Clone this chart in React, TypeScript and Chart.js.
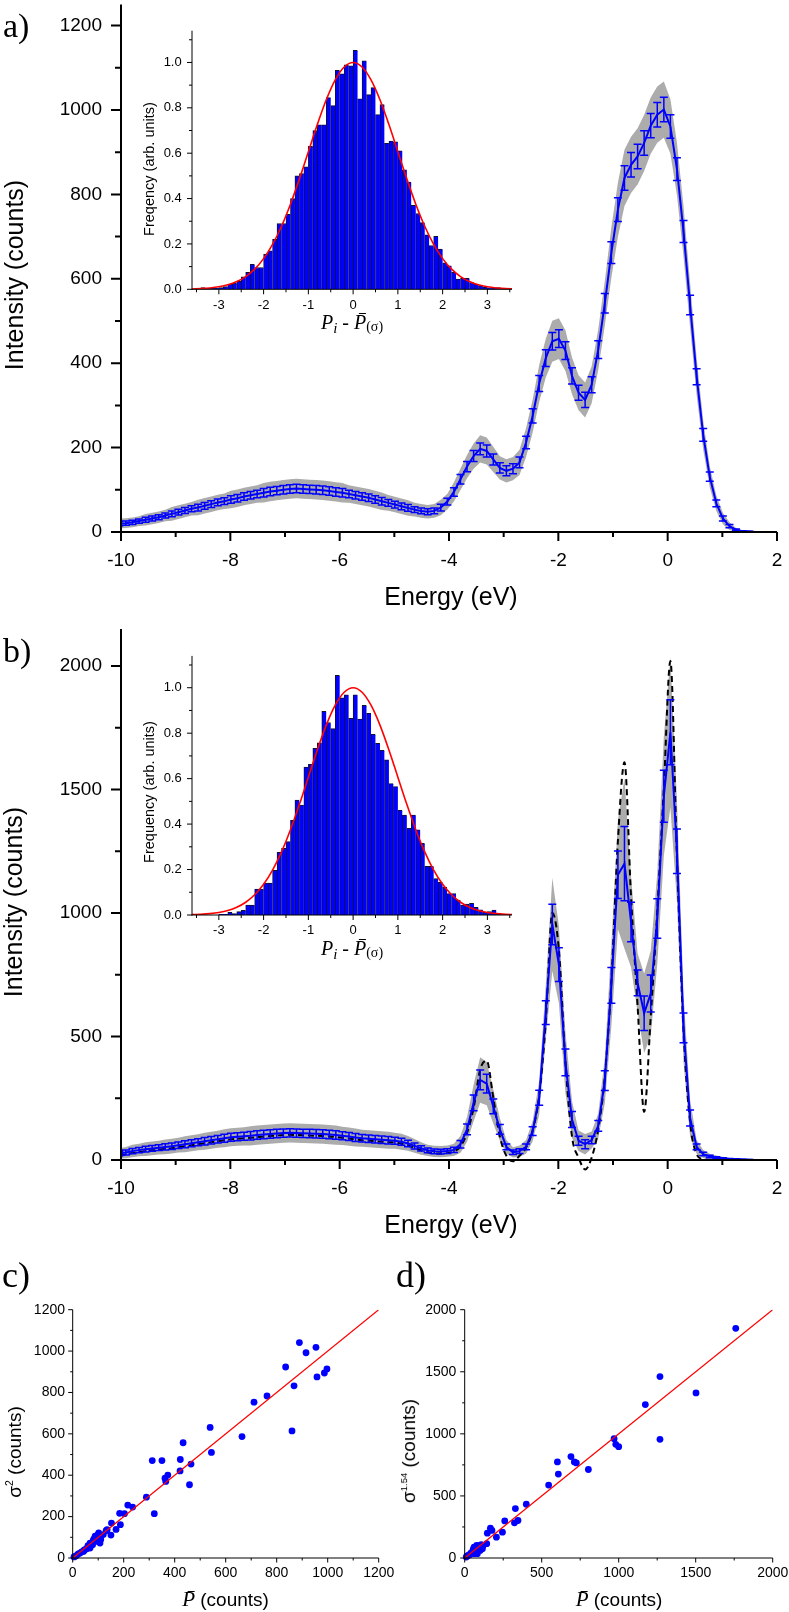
import React, { useEffect, useRef } from 'react';
import { Chart, registerables } from 'chart.js';

Chart.register(...registerables);

const SANS = '"Liberation Sans", Arial, sans-serif';
const SERIF = '"Liberation Serif", "Times New Roman", serif';
const BLUE = '#0000ff';
const GRAY = '#acacac';
const BAND_K = 2.3;

// ---------- energy grid (eV) shared by panels a and b ----------
const energy = [
  -10.03, -9.91, -9.79, -9.67, -9.55, -9.43, -9.31, -9.19, -9.07, -8.95,
  -8.83, -8.71, -8.59, -8.47, -8.35, -8.23, -8.11, -7.99, -7.87, -7.75,
  -7.63, -7.51, -7.39, -7.27, -7.15, -7.03, -6.91, -6.79, -6.67, -6.55,
  -6.43, -6.31, -6.19, -6.07, -5.95, -5.83, -5.71, -5.59, -5.47, -5.35,
  -5.23, -5.11, -4.99, -4.87, -4.75, -4.63, -4.51, -4.39, -4.27, -4.15,
  -4.03, -3.91, -3.79, -3.67, -3.55, -3.43, -3.31, -3.19, -3.07, -2.95,
  -2.83, -2.71, -2.59, -2.47, -2.35, -2.23, -2.11, -1.99, -1.87, -1.75,
  -1.63, -1.51, -1.39, -1.27, -1.15, -1.03, -0.91, -0.79, -0.67, -0.55,
  -0.43, -0.31, -0.19, -0.07, 0.05, 0.17, 0.29, 0.41, 0.53, 0.65,
  0.77, 0.89, 1.01, 1.13, 1.25, 1.37, 1.49, 1.61, 1.73, 1.85,
  1.97,
];

// ---------- panel a: mean intensity and error ----------
const meanA = [
  20, 21, 23, 26, 29, 32, 35, 39, 43, 47,
  51, 55, 58, 62, 66, 70, 73, 77, 80, 84,
  87, 90, 93, 96, 98, 100, 102, 103, 102, 101,
  100, 99, 97, 95, 93, 90, 87, 84, 81, 77,
  73, 69, 65, 61, 57, 53, 50, 48, 50, 58,
  72, 95, 125, 155, 180, 197, 192, 172, 152, 145,
  150, 165, 212, 275, 352, 412, 452, 458, 430, 370,
  330, 313, 349, 432, 542, 662, 764, 839, 870, 890,
  922, 963, 989, 1001, 961, 860, 712, 538, 368, 230,
  131, 68, 32, 14, 5, 2, 1, 0, 0, 0,
  0,
];
const errA = [
  5, 5, 5, 5, 6, 6, 6, 6, 7, 7,
  7, 7, 8, 8, 8, 8, 8, 9, 9, 9,
  9, 9, 10, 10, 10, 10, 10, 10, 10, 10,
  10, 10, 10, 10, 10, 9, 9, 9, 9, 9,
  9, 8, 8, 8, 8, 7, 7, 7, 7, 8,
  8, 10, 11, 12, 13, 14, 14, 13, 12, 12,
  12, 13, 15, 17, 19, 20, 21, 21, 21, 19,
  18, 18, 19, 21, 23, 26, 28, 29, 29, 29,
  29, 29, 29, 29, 28, 27, 26, 23, 19, 15,
  11, 8, 6, 4, 2, 1, 1, 0, 0, 0,
  0,
];

// ---------- panel b: mean intensity, error, model (dashed) ----------
const meanB = [
  26, 30, 36, 40, 44, 47, 50, 53, 56, 60,
  64, 68, 72, 76, 80, 84, 88, 92, 94, 96,
  98, 101, 103, 105, 107, 109, 110, 109, 108, 107,
  106, 105, 103, 101, 98, 95, 91, 88, 86, 84,
  82, 80, 78, 74, 67, 57, 47, 39, 35, 34,
  36, 41, 64, 124, 231, 324, 309, 217, 124, 53,
  31, 36, 53, 117, 252, 597, 954, 791, 395, 164,
  78, 64, 81, 138, 321, 707, 1155, 1200, 964, 717,
  594, 674, 978, 1473, 1732, 1250, 535, 170, 53, 24,
  14, 9, 6, 4, 3, 2, 1, 0, 0, 0,
  0,
];
const errB = [
  9, 10, 11, 11, 12, 12, 12, 13, 13, 13,
  14, 14, 14, 15, 15, 15, 16, 16, 16, 16,
  17, 17, 17, 17, 17, 17, 17, 17, 17, 17,
  17, 17, 17, 17, 16, 16, 16, 15, 15, 15,
  15, 15, 14, 14, 13, 12, 11, 10, 10, 10,
  10, 11, 15, 22, 32, 40, 38, 30, 20, 12,
  9, 10, 12, 18, 30, 48, 82, 68, 54, 32,
  18, 18, 15, 22, 40, 72, 96, 150, 80, 52,
  70, 75, 80, 105, 132, 90, 60, 32, 12, 7,
  5, 4, 3, 2, 2, 1, 1, 0, 0, 0,
  0,
];
const modelB = [
  18, 22, 28, 32, 36, 39, 42, 45, 48, 52,
  56, 60, 64, 68, 72, 76, 80, 84, 86, 88,
  90, 93, 95, 97, 99, 101, 102, 101, 100, 99,
  98, 97, 95, 93, 90, 87, 83, 80, 78, 76,
  74, 72, 70, 66, 59, 49, 39, 31, 27, 26,
  28, 35, 55, 110, 210, 366, 402, 252, 95, 17,
  -5, 17, 50, 120, 260, 560, 1000, 850, 395, 95,
  10, -38, 10, 124, 338, 723, 1293, 1610, 1065, 623,
  195, 580, 1008, 1507, 2020, 1222, 523, 153, 24, 3,
  0, 0, 0, 0, 0, 0, 0, 0, 0, 0,
  0,
];

// ---------- inset histograms ----------
const histBinsA = [
  -3.35, -3.25, -3.15, -3.05, -2.95, -2.85, -2.75, -2.65, -2.55, -2.45,
  -2.35, -2.25, -2.15, -2.05, -1.95, -1.85, -1.75, -1.65, -1.55, -1.45,
  -1.35, -1.25, -1.15, -1.05, -0.95, -0.85, -0.75, -0.65, -0.55, -0.45,
  -0.35, -0.25, -0.15, -0.05, 0.05, 0.15, 0.25, 0.35, 0.45, 0.55,
  0.65, 0.75, 0.85, 0.95, 1.05, 1.15, 1.25, 1.35, 1.45, 1.55,
  1.65, 1.75, 1.85, 1.95, 2.05, 2.15, 2.25, 2.35, 2.45, 2.55,
  2.65, 2.75, 2.85, 2.95, 3.05, 3.15, 3.25, 3.35,
];
const histA = [
  0.008, 0.004, 0.004, 0.005, 0.008, 0.012, 0.022, 0.026, 0.035, 0.055,
  0.075, 0.11, 0.096, 0.096, 0.155, 0.17, 0.22, 0.29, 0.29, 0.33,
  0.4, 0.5, 0.51, 0.54, 0.63, 0.7, 0.725, 0.725, 0.845, 0.81,
  0.965, 0.95, 0.99, 0.985, 1.053, 0.84, 1.007, 0.858, 0.889, 0.77,
  0.814, 0.643, 0.653, 0.65, 0.61, 0.527, 0.473, 0.37, 0.334, 0.294,
  0.24, 0.193, 0.234, 0.177, 0.117, 0.104, 0.075, 0.045, 0.048, 0.048,
  0.03, 0.022, 0.016, 0.01, 0.007, 0.007, 0.008, 0.005,
];
const histBinsB = [
  -2.95, -2.85, -2.75, -2.65, -2.55, -2.45, -2.35, -2.25, -2.15, -2.05,
  -1.95, -1.85, -1.75, -1.65, -1.55, -1.45, -1.35, -1.25, -1.15, -1.05,
  -0.95, -0.85, -0.75, -0.65, -0.55, -0.45, -0.35, -0.25, -0.15, -0.05,
  0.05, 0.15, 0.25, 0.35, 0.45, 0.55, 0.65, 0.75, 0.85, 0.95,
  1.05, 1.15, 1.25, 1.35, 1.45, 1.55, 1.65, 1.75, 1.85, 1.95,
  2.05, 2.15, 2.25, 2.35, 2.45, 2.55, 2.65, 2.75, 2.85, 2.95,
  3.05, 3.15, 3.25,
];
const histB = [
  0.003, 0.003, 0.012, 0.006, 0.015, 0.02, 0.044, 0.044, 0.114, 0.114,
  0.14, 0.14, 0.196, 0.276, 0.293, 0.323, 0.416, 0.506, 0.484, 0.651,
  0.663, 0.733, 0.758, 0.896, 0.847, 0.82, 1.054, 0.955, 0.969, 0.865,
  0.969, 0.862, 0.922, 0.887, 0.795, 0.755, 0.724, 0.683, 0.578, 0.565,
  0.46, 0.44, 0.381, 0.44, 0.375, 0.315, 0.214, 0.214, 0.16, 0.144,
  0.122, 0.094, 0.094, 0.066, 0.044, 0.048, 0.051, 0.034, 0.023, 0.012,
  0.015, 0.022, 0.003,
];
// fitted normal curve (red)
const gaussX = [
  -3.6, -3.4, -3.2, -3.0, -2.8, -2.6, -2.4, -2.2, -2.0, -1.8,
  -1.6, -1.4, -1.2, -1.0, -0.8, -0.6, -0.4, -0.2, 0, 0.2,
  0.4, 0.6, 0.8, 1.0, 1.2, 1.4, 1.6, 1.8, 2.0, 2.2,
  2.4, 2.6, 2.8, 3.0, 3.2, 3.4, 3.6,
];
const gaussY = [
  0.0015, 0.0031, 0.006, 0.0111, 0.0198, 0.034, 0.0561, 0.0889, 0.1353, 0.1979,
  0.278, 0.3753, 0.4868, 0.6065, 0.7261, 0.8353, 0.9231, 0.9802, 1.0, 0.9802,
  0.9231, 0.8353, 0.7261, 0.6065, 0.4868, 0.3753, 0.278, 0.1979, 0.1353, 0.0889,
  0.0561, 0.034, 0.0198, 0.0111, 0.006, 0.0031, 0.0015,
];

// ---------- panel c ----------
const cX = [
  889, 915, 954, 835, 958, 987, 997, 868, 762, 711, 860, 664, 539, 544, 433, 422, 421, 464, 458, 312,
  350, 373, 362, 365, 289, 320, 216, 235, 184, 203, 187, 152, 170, 150, 135, 102, 105, 94, 88, 107,
  78, 68, 58, 42, 29, 16, 5, 81, 68, 48, 120, 131, 100, 90, 75, 60, 55, 35, 22, 10,
  110, 98, 85, 65, 45,
];
const cY = [
  1041, 992, 1018, 923, 875, 894, 914, 832, 783, 753, 614, 587, 631, 510, 557, 476, 421, 454, 354, 471,
  471, 401, 386, 370, 294, 214, 256, 246, 216, 214, 161, 169, 138, 111, 137, 121, 113, 88, 105, 72,
  64, 72, 48, 32, 24, 13, 5, 88, 48, 40, 113, 132, 100, 80, 70, 60, 45, 30, 20, 8,
  90, 112, 95, 55, 38,
];
const fitCX = [0, 1200];
const fitCY = [0, 1200];

// ---------- panel d ----------
const dX = [
  1760, 1268, 1502, 1173, 1268, 970, 981, 1000, 690, 712, 725, 602, 608, 803, 545, 400, 329, 346, 323, 260,
  245, 206, 167, 177, 147, 143, 108, 93, 78, 61, 100, 71, 50, 35, 17, 82, 115, 65, 90, 55,
  40, 25, 10, 120, 70,
];
const dY = [
  1850, 1461, 1330, 1236, 956, 961, 916, 897, 817, 774, 766, 774, 676, 713, 587, 433, 398, 302, 283, 299,
  208, 168, 240, 222, 200, 115, 107, 88, 101, 88, 61, 56, 48, 29, 16, 35, 75, 35, 100, 70,
  40, 22, 8, 100, 80,
];
const fitDX = [0, 2000];
const fitDY = [0, 2000];

// ---------- helpers ----------
const fitScale = (size: number) => (s: any) => {
  if (s.isHorizontal()) s.height = size;
  else s.width = size;
  s.paddingTop = 0;
  s.paddingBottom = 0;
  s.paddingLeft = 0;
  s.paddingRight = 0;
};

function axis(min: number, max: number, step: number, size: number, padding: number, fontSize: number, fmt: (v: any) => string) {
  return {
    type: 'linear',
    min,
    max,
    offset: false,
    ticks: {
      stepSize: step,
      padding,
      font: { family: SANS, size: fontSize },
      color: '#000',
      callback: fmt,
      autoSkip: false,
      maxRotation: 0,
      minRotation: 0,
      includeBounds: false,
    },
    afterBuildTicks: (s: any) => {
      const t: any[] = [];
      const i0 = Math.ceil(min / step - 1e-9);
      const i1 = Math.floor(max / step + 1e-9);
      for (let i = i0; i <= i1; i++) t.push({ value: Number((i * step).toFixed(6)) });
      s.ticks = t;
    },
    grid: { display: false, drawTicks: false, offset: false },
    border: { display: false },
    title: { display: false },
    afterFit: fitScale(size),
  };
}

type TickSpec = { major: number; minor: number; len: number; minorLen: number };
function makeAxes(cfg: { width: number; x: TickSpec; y: TickSpec }) {
  return {
    id: 'axesOut',
    afterDraw(chart: any) {
      const { ctx, chartArea: a } = chart;
      const w = cfg.width;
      ctx.save();
      ctx.strokeStyle = '#000';
      ctx.lineWidth = w;
      ctx.lineCap = 'butt';
      ctx.beginPath();
      ctx.moveTo(a.left, a.top);
      ctx.lineTo(a.left, a.bottom + w / 2);
      ctx.moveTo(a.left - w / 2, a.bottom);
      ctx.lineTo(a.right, a.bottom);
      ctx.stroke();
      (['x', 'y'] as const).forEach((ax) => {
        const o = cfg[ax];
        const sc = chart.scales[ax];
        const i0 = Math.ceil(sc.min / o.minor - 1e-6);
        const i1 = Math.floor(sc.max / o.minor + 1e-6);
        ctx.beginPath();
        for (let i = i0; i <= i1; i++) {
          const v = i * o.minor;
          const r = v / o.major;
          const major = Math.abs(r - Math.round(r)) < 1e-6;
          const len = major ? o.len : o.minorLen;
          const p = sc.getPixelForValue(v);
          if (ax === 'x') {
            ctx.moveTo(p, a.bottom);
            ctx.lineTo(p, a.bottom + len);
          } else {
            ctx.moveTo(a.left, p);
            ctx.lineTo(a.left - len, p);
          }
        }
        ctx.stroke();
      });
      ctx.restore();
    },
  };
}

const errorBarPlugin = {
  id: 'errBars',
  afterDatasetsDraw(chart: any) {
    const { ctx, chartArea: a } = chart;
    const ys = chart.scales.y;
    ctx.save();
    ctx.beginPath();
    ctx.rect(a.left, a.top, a.right - a.left, a.bottom - a.top);
    ctx.clip();
    chart.data.datasets.forEach((ds: any, di: number) => {
      if (!ds.errorBars) return;
      const meta = chart.getDatasetMeta(di);
      ctx.strokeStyle = ds.borderColor;
      ctx.lineWidth = 1.5;
      ctx.beginPath();
      meta.data.forEach((pt: any, i: number) => {
        const e = ds.errorBars[i];
        if (!e) return;
        const v = ds.data[i].y;
        const y1 = ys.getPixelForValue(v + e);
        const y2 = ys.getPixelForValue(v - e);
        const x = pt.x;
        const c = 4;
        ctx.moveTo(x, y1);
        ctx.lineTo(x, y2);
        ctx.moveTo(x - c, y1);
        ctx.lineTo(x + c, y1);
        ctx.moveTo(x - c, y2);
        ctx.lineTo(x + c, y2);
      });
      ctx.stroke();
    });
    ctx.restore();
  },
};

const baseOptions = {
  responsive: false,
  animation: false,
  devicePixelRatio: 1,
  events: [],
};

function mainConfig(mean: number[], err: number[], model: number[] | null, yMax: number, yStep: number, yMinor: number, padTop: number, xH: number) {
  const datasets: any[] = [
    {
      type: 'line',
      data: energy.map((e, i) => ({ x: e, y: mean[i] + BAND_K * err[i] })),
      fill: '+1',
      backgroundColor: GRAY,
      borderColor: 'rgba(0,0,0,0)',
      borderWidth: 0,
      pointRadius: 0,
      order: 5,
    },
    {
      type: 'line',
      data: energy.map((e, i) => ({ x: e, y: mean[i] - BAND_K * err[i] })),
      fill: false,
      borderColor: 'rgba(0,0,0,0)',
      borderWidth: 0,
      pointRadius: 0,
      order: 6,
    },
  ];
  if (model) {
    datasets.push({
      type: 'line',
      data: energy.map((e, i) => ({ x: e, y: model[i] })),
      borderColor: '#000',
      borderWidth: 2,
      borderDash: [6, 4],
      pointRadius: 0,
      fill: false,
      cubicInterpolationMode: 'monotone',
      clip: { left: 0, top: 0, right: 0, bottom: 14 },
      order: 2,
    });
  }
  datasets.push({
    type: 'line',
    data: energy.map((e, i) => ({ x: e, y: mean[i] })),
    borderColor: BLUE,
    borderWidth: 2,
    pointRadius: 0,
    fill: false,
    errorBars: err,
    order: 1,
  });
  return {
    type: 'line',
    data: { datasets },
    options: {
      ...baseOptions,
      layout: { padding: { left: 0, right: 12, top: padTop, bottom: 0 } },
      plugins: { legend: { display: false }, tooltip: { enabled: false } },
      scales: {
        x: axis(-10, 2, 2, xH, 17, 19, (v) => String(v)),
        y: axis(0, yMax, yStep, 121, 19, 19, (v) => String(v)),
      },
    },
    plugins: [
      errorBarPlugin,
      makeAxes({
        width: 2,
        x: { major: 2, minor: 1, len: 9, minorLen: 5 },
        y: { major: yStep, minor: yMinor, len: 10, minorLen: 6 },
      }),
    ],
  };
}

function insetConfig(bins: number[], vals: number[], padTop: number, xH: number) {
  return {
    type: 'bar',
    data: {
      datasets: [
        {
          type: 'line',
          data: gaussX.map((x, i) => ({ x, y: gaussY[i] })),
          borderColor: '#ff0000',
          borderWidth: 1.6,
          pointRadius: 0,
          fill: false,
          cubicInterpolationMode: 'monotone',
          order: 0,
        },
        {
          type: 'bar',
          data: bins.map((x, i) => ({ x, y: vals[i] })),
          backgroundColor: BLUE,
          borderColor: '#111133',
          borderWidth: { left: 1, top: 1, right: 0, bottom: 0 },
          barPercentage: 1,
          categoryPercentage: 1,
          order: 1,
        },
      ],
    },
    options: {
      ...baseOptions,
      layout: { padding: { left: 0, right: 18, top: padTop, bottom: 0 } },
      plugins: { legend: { display: false }, tooltip: { enabled: false } },
      scales: {
        x: axis(-3.6, 3.55, 1, xH, 8, 13, (v) => String(Math.round(Number(v)))),
        y: axis(0, 1.14, 0.2, 52, 10.3, 13, (v) => Number(v).toFixed(1)),
      },
    },
    plugins: [
      makeAxes({
        width: 1,
        x: { major: 1, minor: 0.5, len: 5, minorLen: 3 },
        y: { major: 0.2, minor: 0.1, len: 5, minorLen: 3 },
      }),
    ],
  };
}

function scatterConfig(xs: number[], ys: number[], fx: number[], fy: number[], max: number, step: number, minor: number, yW: number, padRight: number, yPad: number) {
  return {
    type: 'scatter',
    data: {
      datasets: [
        {
          type: 'line',
          data: fx.map((x, i) => ({ x, y: fy[i] })),
          borderColor: '#ff0000',
          borderWidth: 1.3,
          pointRadius: 0,
          fill: false,
          order: 0,
        },
        {
          type: 'scatter',
          data: xs.map((x, i) => ({ x, y: ys[i] })),
          backgroundColor: BLUE,
          borderWidth: 0,
          pointRadius: 3.4,
          clip: 6,
          order: 1,
        },
      ],
    },
    options: {
      ...baseOptions,
      layout: { padding: { left: 0, right: padRight, top: 19.7, bottom: 0 } },
      plugins: { legend: { display: false }, tooltip: { enabled: false } },
      scales: {
        x: axis(0, max, step, 42, 6.9, 14, (v) => String(v)),
        y: axis(0, max, step, yW, yPad, 14, (v) => String(v)),
      },
    },
    plugins: [
      makeAxes({
        width: 1,
        x: { major: step, minor, len: 4.5, minorLen: 2.5 },
        y: { major: step, minor, len: 4.5, minorLen: 2.5 },
      }),
    ],
  };
}

function ChartBox({ left, top, width, height, build }: { left: number; top: number; width: number; height: number; build: () => any }) {
  const ref = useRef<HTMLCanvasElement>(null);
  useEffect(() => {
    const chart = new Chart(ref.current as HTMLCanvasElement, build());
    return () => chart.destroy();
  }, []);
  return (
    <div style={{ position: 'absolute', left, top, width, height }}>
      <canvas ref={ref} width={width} height={height} style={{ width, height, display: 'block' }} />
    </div>
  );
}

function Txt({ x, y, size, serif, rotate, align = 'center', children }: { x: number; y: number; size: number; serif?: boolean; rotate?: boolean; align?: 'center' | 'left'; children: any }) {
  const tr = (align === 'left' ? 'translateY(-50%)' : 'translate(-50%,-50%)') + (rotate ? ' rotate(-90deg)' : '');
  return (
    <div
      style={{
        position: 'absolute',
        left: x,
        top: y,
        transform: tr,
        fontFamily: serif ? SERIF : SANS,
        fontSize: size,
        lineHeight: 1.15,
        whiteSpace: 'nowrap',
        color: '#000',
      }}
    >
      {children}
    </div>
  );
}

function PBar({ size }: { size: number }) {
  return (
    <span style={{ position: 'relative', display: 'inline-block', fontStyle: 'italic', fontFamily: SERIF, fontSize: size }}>
      P
      <span style={{ position: 'absolute', left: '0.24em', right: '0.02em', top: '0.12em', borderTop: '1.3px solid #000' }} />
    </span>
  );
}

function InsetXTitle({ top }: { top: number }) {
  return (
    <div
      style={{
        position: 'absolute',
        left: 352,
        top,
        transform: 'translateX(-50%)',
        fontFamily: SERIF,
        fontSize: 20,
        lineHeight: '23px',
        whiteSpace: 'nowrap',
        color: '#000',
      }}
    >
      <i>P</i>
      <i style={{ fontSize: 15, position: 'relative', top: 4 }}>i</i>
      {' - '}
      <PBar size={20} />
      <span style={{ fontSize: 14, position: 'relative', top: 2 }}>(σ)</span>
    </div>
  );
}

function PCountsTitle({ x, top }: { x: number; top: number }) {
  return (
    <div
      style={{
        position: 'absolute',
        left: x,
        top,
        transform: 'translateX(-50%)',
        fontFamily: SANS,
        fontSize: 19,
        lineHeight: '23px',
        whiteSpace: 'nowrap',
        color: '#000',
      }}
    >
      <PBar size={21} /> (counts)
    </div>
  );
}

export default function App() {
  return (
    <div style={{ position: 'absolute', left: 0, top: 0, width: 789, height: 1612, background: '#fff', overflow: 'hidden' }}>
      <ChartBox left={0} top={0} width={789} height={575} build={() => mainConfig(meanA, errA, null, 1250, 200, 100, 4.5, 43)} />
      <ChartBox left={140} top={20} width={390} height={300} build={() => insetConfig(histBinsA, histA, 10.7, 30.7)} />
      <ChartBox left={0} top={600} width={789} height={620} build={() => mainConfig(meanB, errB, modelB, 2150, 500, 250, 29, 60)} />
      <ChartBox left={140} top={645} width={390} height={300} build={() => insetConfig(histBinsB, histB, 10.9, 30)} />
      <ChartBox left={0} top={1290} width={400} height={310} build={() => scatterConfig(cX, cY, fitCX, fitCY, 1200, 200, 100, 72.7, 21.3, 7.7)} />
      <ChartBox left={394} top={1290} width={395} height={310} build={() => scatterConfig(dX, dY, fitDX, fitDY, 2000, 500, 250, 70.7, 16.3, 8.4)} />

      <Txt x={3} y={25.8} size={34} serif align="left">a)</Txt>
      <Txt x={3} y={651} size={34} serif align="left">b)</Txt>
      <Txt x={2} y={1276} size={36} serif align="left">c)</Txt>
      <Txt x={396} y={1276} size={36} serif align="left">d)</Txt>

      <Txt x={14} y={275} size={25} rotate>Intensity (counts)</Txt>
      <Txt x={451} y={596} size={25}>Energy (eV)</Txt>
      <Txt x={13} y={902} size={25} rotate>Intensity (counts)</Txt>
      <Txt x={451} y={1224} size={25}>Energy (eV)</Txt>

      <Txt x={149} y={169} size={14.5} rotate>Freqency (arb. units)</Txt>
      <Txt x={149} y={792} size={14.5} rotate>Frequency (arb. units)</Txt>
      <InsetXTitle top={311} />
      <InsetXTitle top={936.7} />

      <Txt x={15} y={1452} size={19} rotate>
        σ<sup style={{ fontSize: '0.55em', verticalAlign: '0.75em' }}>2</sup> (counts)
      </Txt>
      <Txt x={409} y={1451} size={19} rotate>
        σ<sup style={{ fontSize: '0.5em', verticalAlign: '0.8em' }}>1.54</sup> (counts)
      </Txt>
      <PCountsTitle x={225.5} top={1588} />
      <PCountsTitle x={619} top={1588} />
    </div>
  );
}
